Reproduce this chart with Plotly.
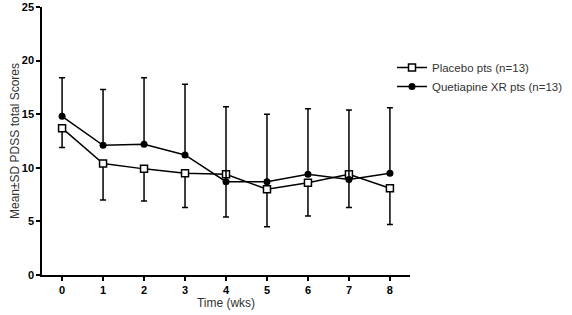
import plotly.graph_objects as go

weeks = [0, 1, 2, 3, 4, 5, 6, 7, 8]
placebo_mean = [13.7, 10.4, 9.9, 9.5, 9.4, 8.0, 8.6, 9.4, 8.1]
placebo_sd = [1.8, 3.4, 3.0, 3.2, 4.0, 3.5, 3.1, 3.1, 3.4]
quet_mean = [14.8, 12.1, 12.2, 11.2, 8.7, 8.7, 9.4, 8.9, 9.5]
quet_sd = [3.6, 5.2, 6.2, 6.6, 7.0, 6.3, 6.1, 6.5, 6.1]
y_ticks = [0, 5, 10, 15, 20, 25]

FONT = "Liberation Sans, Arial, sans-serif"

fig = go.Figure()
fig.add_trace(go.Scatter(
    x=weeks, y=placebo_mean, mode="lines+markers", name="Placebo pts (n=13)",
    line=dict(color="black", width=1.5),
    marker=dict(symbol="square", size=7, color="white", line=dict(color="black", width=1.5)),
    error_y=dict(type="data", symmetric=False, array=[0] * len(weeks), arrayminus=placebo_sd,
                 color="black", thickness=1.5, width=3),
))
fig.add_trace(go.Scatter(
    x=weeks, y=quet_mean, mode="lines+markers", name="Quetiapine XR pts (n=13)",
    line=dict(color="black", width=1.5),
    marker=dict(symbol="circle", size=7, color="black"),
    error_y=dict(type="data", symmetric=False, array=quet_sd, arrayminus=[0] * len(weeks),
                 color="black", thickness=1.5, width=3),
))

fig.update_layout(
    width=572, height=315,
    margin=dict(l=42, r=162, t=7, b=40, autoexpand=False),
    paper_bgcolor="white", plot_bgcolor="white",
    font=dict(family=FONT, color="black", size=11),
    showlegend=True,
    legend=dict(xref="container", yref="container", x=392 / 572, y=1 - 53 / 315,
                xanchor="left", yanchor="top", font=dict(size=11.5, family=FONT, color="#333"),
                bgcolor="rgba(0,0,0,0)", tracegroupgap=0),
    xaxis=dict(range=[-0.49, 8.49], tickvals=weeks, ticktext=[str(w) for w in weeks],
               automargin=False,
               showgrid=False, zeroline=False, showline=True, linecolor="black", linewidth=1.5,
               ticks="outside", ticklen=4, tickwidth=1.5, tickcolor="black",
               tickfont=dict(family=FONT, size=11, weight="bold"),
               title=dict(text="Time (wks)", font=dict(family=FONT, size=12, color="#333"), standoff=3)),
    yaxis=dict(range=[0, 25], tickvals=y_ticks, automargin=False,
               showgrid=False, zeroline=False, showline=True, linecolor="black", linewidth=1.5,
               ticks="outside", ticklen=4, tickwidth=1.5, tickcolor="black",
               tickfont=dict(family=FONT, size=11, weight="bold"),
               title=dict(text="Mean±SD PDSS total Scores", font=dict(family=FONT, size=12, color="#333"), standoff=0)),
)

fig.write_html("out.html", config={"displayModeBar": False},
               post_script="document.body.style.margin='0';document.body.style.padding='0';")
